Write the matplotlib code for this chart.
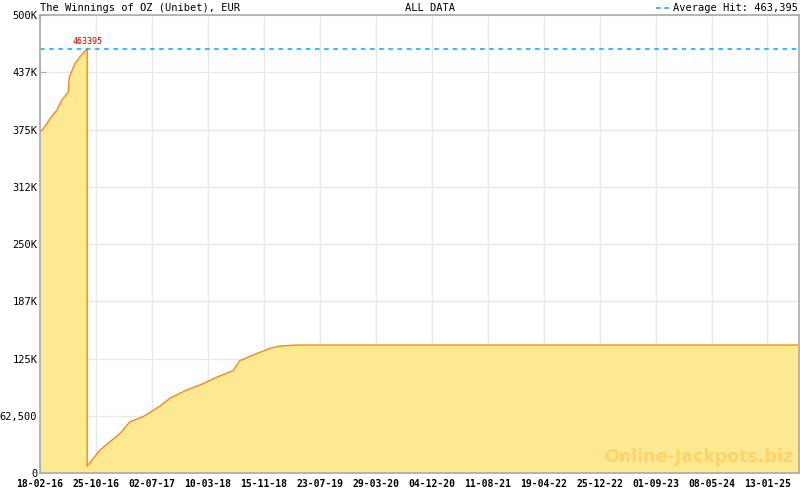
import numpy as np
import pandas as pd
import matplotlib
matplotlib.use("Agg")
import matplotlib.pyplot as plt
import matplotlib.transforms as mtransforms

# data
dates = ["2016-02-18", "2016-03-11", "2016-04-03", "2016-05-03", "2016-05-25",
         "2016-06-23", "2016-06-28", "2016-07-23", "2016-08-15", "2016-09-16",
         "2016-09-16", "2016-11-12", "2016-12-26", "2017-02-09", "2017-03-26",
         "2017-05-24", "2017-08-07", "2017-09-20", "2017-12-04", "2018-02-01",
         "2018-04-17", "2018-06-30", "2018-07-30", "2018-09-27", "2018-12-11",
         "2019-01-24", "2019-04-09", "2025-06-03"]
values = [372000, 378000, 387000, 396000, 407000,
          416000, 432000, 447000, 454500, 463395,
          7600, 25000, 34000, 43000, 56000,
          61500, 73000, 81500, 90600, 96000,
          104500, 111700, 122600, 128800, 136000,
          138600, 139700, 139700]
average_hit = 463395
peak_label = "463395"

x_tick_labels = ["18-02-16", "25-10-16", "02-07-17", "10-03-18", "15-11-18",
                 "23-07-19", "29-03-20", "04-12-20", "11-08-21", "19-04-22",
                 "25-12-22", "01-09-23", "08-05-24", "13-01-25"]
y_ticks = [0, 62500, 125000, 187500, 250000, 312500, 375000, 437500, 500000]
y_tick_labels = ["0", "62,500", "125K", "187K", "250K", "312K", "375K", "437K", "500K"]

x = pd.to_datetime(dates)
x_ticks = pd.to_datetime(x_tick_labels, format="%d-%m-%y")

mono = "DejaVu Sans Mono"
grey = "#aaaaaa"

fig = plt.figure(figsize=(8, 4.9), dpi=100)
ax = fig.add_axes([40 / 800, 17 / 490, 759 / 800, 458 / 490])

ax.fill_between(x, values, 0, color="#fee993", linewidth=0)
ax.plot(x, values, color="#ff8a00", linewidth=1.0)
ax.axhline(average_hit, color="#1ba1e2", linestyle=(0, (3, 3)), linewidth=1.1)

peak_i = int(np.argmax(values))
ax.annotate(peak_label, (x[peak_i], values[peak_i]), xytext=(0, 2),
            textcoords="offset points", ha="center", va="bottom",
            color="#cc0000", fontsize=6, family=mono)

ax.set_xlim(pd.Timestamp("2016-02-18"), pd.Timestamp("2025-06-03"))
ax.set_ylim(0, 500000)

ax.set_xticks(x_ticks)
ax.set_xticklabels(x_tick_labels, family=mono, fontsize=7, fontweight="bold")
minor = pd.date_range("2016-02-18", "2025-06-03",
                      freq=pd.Timedelta(days=250 / 7))
ax.set_xticks(minor, minor=True)
ax.set_yticks(y_ticks)
ax.set_yticklabels(y_tick_labels, family=mono, fontsize=7.5)

# nudge the "0" label up a little so it clears the first date
lab0 = ax.get_yticklabels()[0]
lab0.set_transform(lab0.get_transform() +
                   mtransforms.ScaledTranslation(0, 2 / 72, fig.dpi_scale_trans))

ax.grid(True, color="#e8e8e8", linewidth=1)
ax.set_axisbelow(True)
ax.tick_params(axis="x", which="major", direction="in", length=6, color=grey, pad=4)
ax.tick_params(axis="x", which="minor", direction="in", length=3, color=grey)
ax.tick_params(axis="y", direction="in", length=4, color=grey, pad=2)
for s in ax.spines.values():
    s.set_color(grey)
    s.set_linewidth(1.2)

fig.text(40 / 800, 1 - 8 / 490, "The Winnings of OZ (Unibet), EUR",
         family=mono, fontsize=7.5, va="center", ha="left")
fig.text(430 / 800, 1 - 8 / 490, "ALL DATA", family=mono, fontsize=7.5,
         va="center", ha="center")
fig.text(798 / 800, 1 - 8 / 490, "Average Hit: 463,395", family=mono,
         fontsize=7.5, va="center", ha="right")
fig.lines.append(plt.Line2D([656 / 800, 670 / 800], [1 - 8 / 490, 1 - 8 / 490],
                            transform=fig.transFigure, color="#1ba1e2",
                            linestyle=(0, (3, 2.5)), linewidth=1.1))

ax.text(0.868, 0.035, "Online-Jackpots.biz", transform=ax.transAxes,
        color="#ffd36a", fontsize=12.5, fontweight="bold", ha="center",
        va="center", family="DejaVu Sans")

fig.savefig("out.png", dpi=100)
